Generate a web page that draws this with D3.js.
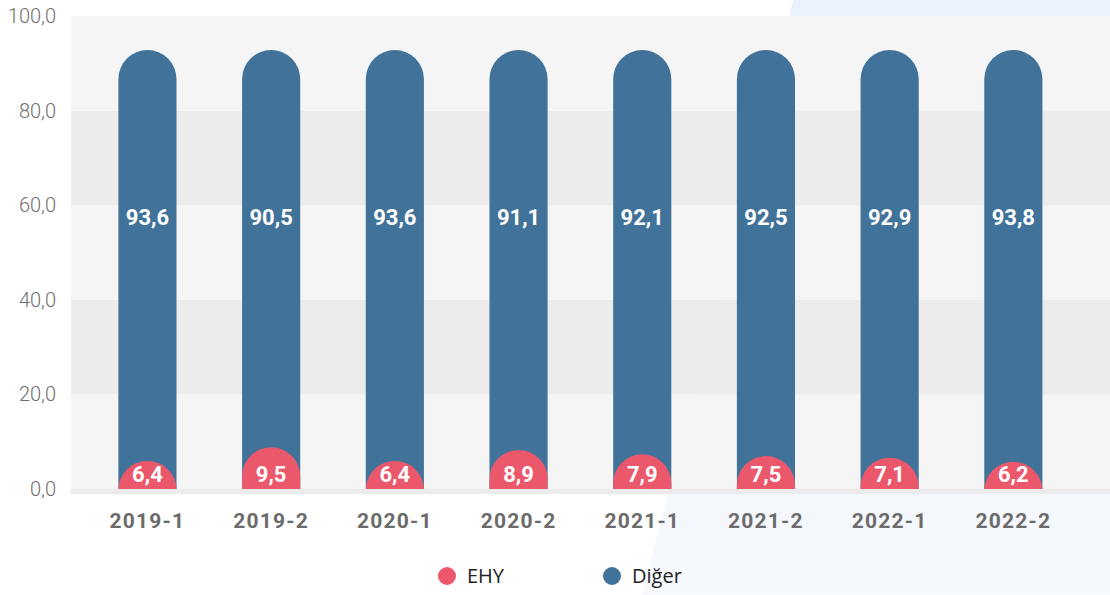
<!DOCTYPE html>
<html><head><meta charset="utf-8">
<script src="https://cdn.jsdelivr.net/npm/d3@7"></script>
<style>
html,body{margin:0;padding:0;background:#fff;}
svg{display:block;}
</style></head>
<body>
<svg id="chart" width="1110" height="595"></svg>
<script>
const categories = ["2019-1","2019-2","2020-1","2020-2","2021-1","2021-2","2022-1","2022-2"];
const ehy   = [6.4, 9.5, 6.4, 8.9, 7.9, 7.5, 7.1, 6.2];
const diger = [93.6, 90.5, 93.6, 91.1, 92.1, 92.5, 92.9, 93.8];
const yTicks = [0, 20, 40, 60, 80, 100];
const seriesNames = ["EHY", "Diğer"];
const colors = ["#eb586b", "#41739a"];

const W = 1110, H = 595;
const svg = d3.select("#chart");
const fmt = v => d3.format(".1f")(v).replace(".", ",");

// background decorative shape
const defs = svg.append("defs");
const grad = defs.append("linearGradient").attr("id","bgGrad").attr("x1",0).attr("y1",0).attr("x2",0).attr("y2",1);
grad.append("stop").attr("offset","0%").attr("stop-color","#e9f2fb");
grad.append("stop").attr("offset","100%").attr("stop-color","#f6f9fd");
svg.append("path").attr("d", `M793,0 L${W},0 L${W},${H} L642,${H} Z`).attr("fill","url(#bgGrad)");

const plotLeft = 71, plotRight = W, plotTop = 16, base = 489;
const y = d3.scaleLinear().domain([0,100]).range([base, plotTop]);
const yBar = d3.scaleLinear().domain([0,100]).range([base, 50]);
const x = d3.scaleBand().domain(categories).range([85.6, 1075.2]).paddingInner(0.53).paddingOuter(0.265);

// bands
for (let i = 0; i < yTicks.length - 1; i++) {
  const a = yTicks[i], b = yTicks[i+1];
  svg.append("rect").attr("x", plotLeft).attr("width", plotRight - plotLeft)
    .attr("y", y(b)).attr("height", y(a) - y(b))
    .attr("fill", (i % 2 === 1) ? "#ececec" : "#f5f5f5");
}
// baseline strip
svg.append("rect").attr("x", plotLeft).attr("width", plotRight - plotLeft)
  .attr("y", base).attr("height", 5).attr("fill", "#ebebeb");

// y axis labels
const yAxis = d3.axisLeft(y).tickValues(yTicks).tickFormat(fmt).tickSize(0).tickPadding(0);
const ga = svg.append("g").attr("transform", "translate(56,0)").call(yAxis);
ga.select(".domain").remove();
ga.selectAll("text").attr("font-family","Roboto, sans-serif").attr("font-weight",300)
  .attr("font-size","20px").attr("fill","#6f6f6f");

// clip
defs.append("clipPath").attr("id","plotClip").append("rect")
  .attr("x", 0).attr("y", 0).attr("width", W).attr("height", base);

const g = svg.append("g").attr("clip-path","url(#plotClip)");
const bw = x.bandwidth();
const totals = categories.map((c,i) => ehy[i] + diger[i]);

g.selectAll("rect.diger").data(categories).join("rect").attr("class","diger")
  .attr("x", d => x(d)).attr("width", bw)
  .attr("y", (d,i) => yBar(totals[i]))
  .attr("height", (d,i) => base - yBar(totals[i]) + bw)
  .attr("rx", bw/2).attr("ry", bw/2)
  .attr("fill", colors[1]);

g.selectAll("rect.ehy").data(categories).join("rect").attr("class","ehy")
  .attr("x", d => x(d)).attr("width", bw)
  .attr("y", (d,i) => yBar(ehy[i]))
  .attr("height", (d,i) => base - yBar(ehy[i]) + bw)
  .attr("rx", bw/2).attr("ry", bw/2)
  .attr("fill", colors[0]);

// value labels
svg.selectAll("text.vd").data(categories).join("text").attr("class","vd")
  .attr("x", d => x(d) + bw/2).attr("y", y(55.8))
  .attr("text-anchor","middle").attr("font-family","Roboto, sans-serif").attr("font-weight",700)
  .attr("font-size","22px").attr("fill","#fff")
  .text((d,i) => fmt(diger[i]));
svg.selectAll("text.ve").data(categories).join("text").attr("class","ve")
  .attr("x", d => x(d) + bw/2).attr("y", base - 7)
  .attr("text-anchor","middle").attr("font-family","Roboto, sans-serif").attr("font-weight",700)
  .attr("font-size","22px").attr("fill","#fff")
  .text((d,i) => fmt(ehy[i]));

// x axis labels
const xAxis = d3.axisBottom(x).tickSize(0).tickPadding(0);
const gx = svg.append("g").attr("transform", `translate(0,${base})`).call(xAxis);
gx.select(".domain").remove();
gx.selectAll("text").attr("dy", null).attr("y", 39)
  .attr("font-family","Roboto, sans-serif").attr("font-weight",700)
  .attr("font-size","21px").attr("letter-spacing","1.2px").attr("fill","#6b6b6b");

// legend
const legendX = [447, 612];
const lg = svg.selectAll("g.leg").data(seriesNames).join("g").attr("class","leg")
  .attr("transform", (d,i) => `translate(${legendX[i]},576)`);
lg.append("circle").attr("r", 9).attr("fill", (d,i) => colors[i]);
lg.append("text").attr("x", 20).attr("y", 7)
  .attr("font-family","'Open Sans', 'Noto Sans', sans-serif").attr("font-size","20px")
  .attr("fill","#222").text(d => d);
</script>
</body></html>
